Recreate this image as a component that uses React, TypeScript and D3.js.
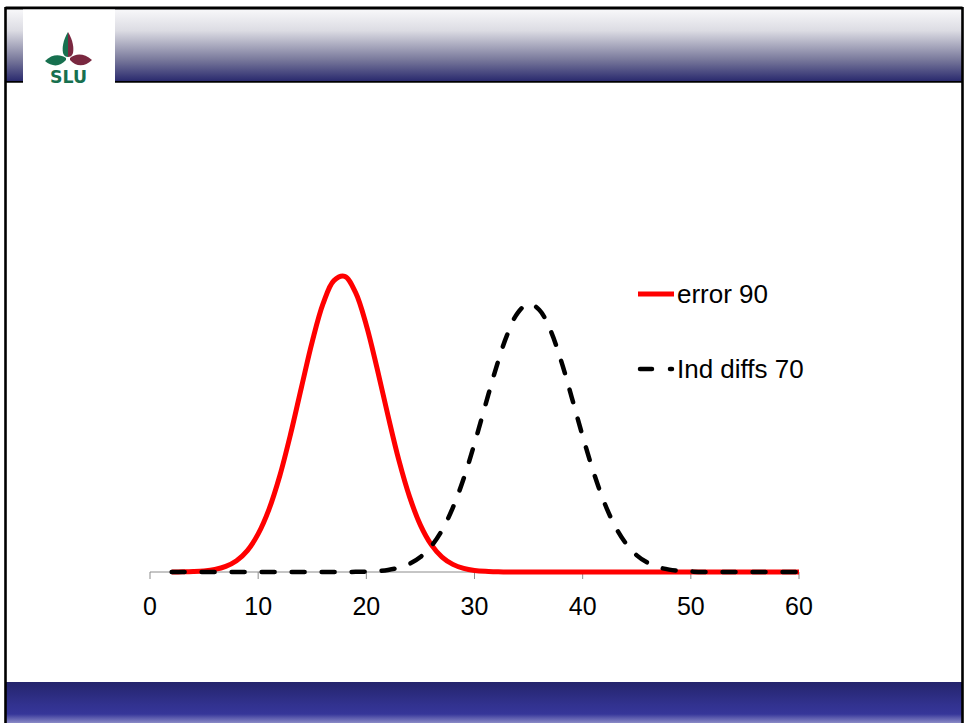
import React from "react";
import * as d3 from "d3";

const xValues = [2,3,4,5,6,7,8,9,10,11,12,13,14,15,16,17,18,19,20,21,22,23,24,25,26,27,28,29,30,31,32,33,34,35,36,37,38,39,40,41,42,43,44,45,46,47,48,49,50,51,52,53,54,55,56,57,58,59,60];

const errorSeries = [0.00002,0.00006,0.00016,0.00039,0.00092,0.0020,0.0040,0.0076,0.0135,0.0222,0.0341,0.0489,0.0654,0.0816,0.0950,0.1032,0.1047,0.0990,0.0874,0.0720,0.0554,0.0397,0.0266,0.0166,0.0097,0.0053,0.0027,0.0013,0.00056,0.00023,0.0001,0,0,0,0,0,0,0,0,0,0,0,0,0,0,0,0,0,0,0,0,0,0,0,0,0,0,0,0];

const indSeries = [0,0,0,0,0,0,0,0,0,0,0,0,0,0,0,0,0.00002,0.00006,0.00015,0.00034,0.00073,0.0015,0.0029,0.0053,0.0091,0.0148,0.0228,0.0331,0.0455,0.0590,0.0723,0.0838,0.0918,0.0950,0.0928,0.0858,0.0749,0.0617,0.0481,0.0354,0.0246,0.0162,0.0101,0.0059,0.0033,0.0017,0.00085,0.0004,0.00018,0,0,0,0,0,0,0,0,0,0];

const seriesNames = ["error 90", "Ind diffs 70"];
const xTicks = [0, 10, 20, 30, 40, 50, 60];

export default function App() {
  const W = 964, H = 723;
  const x = d3.scaleLinear().domain([0, 60]).range([150, 799]);
  const y = d3.scaleLinear().domain([0, 0.105]).range([572, 275.5]);
  const line = d3
    .line<[number, number]>()
    .x((d) => x(d[0]))
    .y((d) => y(d[1]))
    .curve(d3.curveCatmullRom.alpha(0.5));
  const redPts = xValues.map((v, i) => [v, errorSeries[i]] as [number, number]);
  const blkPts = xValues.map((v, i) => [v, indSeries[i]] as [number, number]);
  const font = "'Liberation Sans', Arial, sans-serif";
  const green = "#17704f";
  const maroon = "#7a2840";

  return (
    <svg
      width={W}
      height={H}
      style={{ position: "absolute", left: 0, top: 0, display: "block", background: "#fff" }}
    >
      <defs>
        <linearGradient id="hdr" x1="0" y1="0" x2="0" y2="1">
          <stop offset="0" stopColor="#f8f8fa" />
          <stop offset="0.3" stopColor="#dcdce3" />
          <stop offset="0.7" stopColor="#7a7a9c" />
          <stop offset="1" stopColor="#2a2a6e" />
        </linearGradient>
        <linearGradient id="ftr" x1="0" y1="0" x2="0" y2="1">
          <stop offset="0" stopColor="#24246c" />
          <stop offset="0.55" stopColor="#32328f" />
          <stop offset="0.78" stopColor="#363699" />
          <stop offset="1" stopColor="#8a8ac6" />
        </linearGradient>
      </defs>
      <rect x={0} y={0} width={W} height={H} fill="#fff" />
      {/* header */}
      <rect x={6} y={9} width={956} height={72} fill="url(#hdr)" />
      <line x1={6} y1={81.8} x2={962} y2={81.8} stroke="#000" strokeWidth={1.8} />
      {/* footer */}
      <rect x={6} y={682} width={956} height={41} fill="url(#ftr)" />
      {/* frame */}
      <line x1={5.5} y1={8} x2={962.5} y2={8} stroke="#000" strokeWidth={2.8} />
      <line x1={5.5} y1={7} x2={5.5} y2={723} stroke="#000" strokeWidth={2.6} />
      <line x1={962.5} y1={7} x2={962.5} y2={723} stroke="#000" strokeWidth={2.6} />
      {/* logo box */}
      <rect x={23} y={9.5} width={92} height={73.5} fill="#fff" />
      <g>
        <path d="M68,32 C63,40 62,48 63,53 C64,56 66,57 68,57 Z" fill={green} />
        <path d="M68,32 C73,40 74,48 73,53 C72,56 70,57 68,57 Z" fill={maroon} />
        <path d="M66,58 C60,54 52,54 45,61 C52,67 60,67 66,60 Z" fill={green} />
        <path d="M70,58 C76,53 84,53 92,60 C85,67 76,67 70,60 Z" fill={maroon} />
        <text
          x={68.5}
          y={82.5}
          textAnchor="middle"
          fontFamily="'DejaVu Sans', sans-serif"
          fontWeight="bold"
          fontSize={17}
          fill={green}
          textLength={37}
          lengthAdjust="spacingAndGlyphs"
        >
          SLU
        </text>
      </g>
      {/* axis */}
      <line x1={x(0)} y1={572} x2={x(60)} y2={572} stroke="#8c8c8c" strokeWidth={1} />
      {xTicks.map((t) => (
        <g key={t}>
          <line x1={x(t)} y1={572} x2={x(t)} y2={579} stroke="#8c8c8c" strokeWidth={1} />
          <text x={x(t)} y={615} textAnchor="middle" fontFamily={font} fontSize={25} fill="#000">
            {t}
          </text>
        </g>
      ))}
      {/* series */}
      <path d={line(redPts) || ""} fill="none" stroke="#ff0000" strokeWidth={5} strokeLinejoin="round" />
      <path
        d={line(blkPts) || ""}
        fill="none"
        stroke="#000"
        strokeWidth={4.5}
        strokeDasharray="13 17"
        strokeLinecap="round"
      />
      {/* legend */}
      <line x1={638} y1={294} x2={674} y2={294} stroke="#ff0000" strokeWidth={5} />
      <text x={677} y={303} fontFamily={font} fontSize={26} fill="#000">
        {seriesNames[0]}
      </text>
      <line
        x1={640}
        y1={369}
        x2={672}
        y2={369}
        stroke="#000"
        strokeWidth={4.5}
        strokeDasharray="12 18"
        strokeLinecap="round"
      />
      <text x={677} y={378} fontFamily={font} fontSize={26} fill="#000">
        {seriesNames[1]}
      </text>
    </svg>
  );
}
